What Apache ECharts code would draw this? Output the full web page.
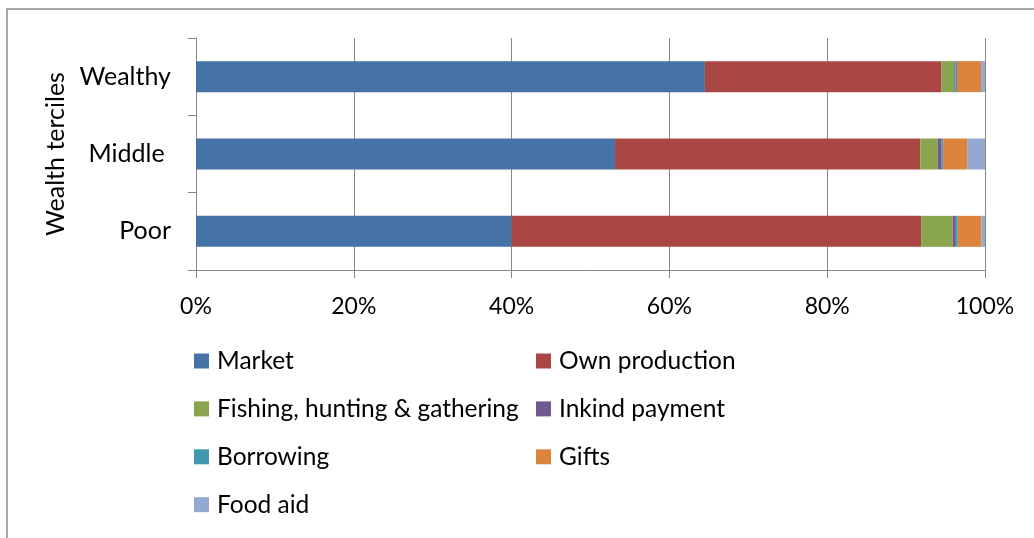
<!DOCTYPE html>
<html>
<head>
<meta charset="utf-8">
<style>
  html, body { margin: 0; padding: 0; background: #fff; }
  #chart { width: 1034px; height: 538px; }
</style>
<script src="https://cdn.jsdelivr.net/npm/echarts@6/dist/echarts.min.js"></script>
</head>
<body>
<div id="chart"></div>
<script>
// Wealth terciles, bottom to top on the category axis
const categories = ['Poor', 'Middle ', 'Wealthy'];

// Share of food by source (%), per tercile in the order above
const market         = [40.0, 53.1, 64.5];
const ownProduction  = [51.9, 38.7, 30.0];
const fishing        = [4.0, 2.2, 1.6];
const inkindPayment  = [0.4, 0.5, 0.15];
const borrowing      = [0.25, 0.2, 0.2];
const gifts          = [3.0, 3.1, 3.05];
const foodAid        = [0.45, 2.2, 0.5];

const xTicks = [0, 20, 40, 60, 80, 100];

const seriesDefs = [
  { name: 'Market', data: market, color: '#4572A7' },
  { name: 'Own production', data: ownProduction, color: '#AA4643' },
  { name: 'Fishing, hunting & gathering', data: fishing, color: '#89A54E' },
  { name: 'Inkind payment', data: inkindPayment, color: '#71588F' },
  { name: 'Borrowing', data: borrowing, color: '#4198AF' },
  { name: 'Gifts', data: gifts, color: '#DB843D' },
  { name: 'Food aid', data: foodAid, color: '#93A9CF' }
];

const FONT = 'Lato';
const TXT = '#000';
const GRID_GRAY = '#888888';

const legendBase = {
  orient: 'vertical',
  padding: 0,
  icon: 'rect',
  itemWidth: 15,
  itemHeight: 15,
  itemGap: 22.9,
  selectedMode: false,
  textStyle: { fontFamily: FONT, fontSize: 24.5, color: TXT, lineHeight: 25, padding: [0, 0, 0, 3] }
};

const chart = echarts.init(document.getElementById('chart'), null, { renderer: 'canvas' });

chart.setOption({
  animation: false,
  backgroundColor: '#ffffff',
  graphic: [{
    type: 'rect',
    shape: { x: 7, y: 9, width: 1100, height: 600 },
    style: { fill: 'none', stroke: '#8c8c8c', lineWidth: 1.5 },
    silent: true
  }],
  grid: { left: 196, right: 49, top: 38, bottom: 268, containLabel: false },
  legend: [
    Object.assign({}, legendBase, {
      left: 194, top: 348.5,
      data: ['Market', 'Fishing, hunting & gathering', 'Borrowing', 'Food aid']
    }),
    Object.assign({}, legendBase, {
      left: 536, top: 348.5,
      data: ['Own production', 'Inkind payment', 'Gifts']
    })
  ],
  xAxis: {
    type: 'value',
    min: xTicks[0],
    max: xTicks[xTicks.length - 1],
    interval: xTicks[1] - xTicks[0],
    axisLine: { show: true, lineStyle: { color: GRID_GRAY, width: 1 } },
    axisTick: { show: true, length: 8, lineStyle: { color: GRID_GRAY } },
    splitLine: { show: true, lineStyle: { color: GRID_GRAY, width: 1 } },
    axisLabel: {
      formatter: '{value}%',
      fontFamily: FONT, fontSize: 23, color: TXT, margin: 25
    }
  },
  yAxis: {
    type: 'category',
    data: categories,
    name: 'Wealth terciles',
    nameLocation: 'middle',
    nameRotate: 90,
    nameGap: 123,
    nameTextStyle: { fontFamily: FONT, fontSize: 25, color: TXT },
    axisLine: { show: true, lineStyle: { color: GRID_GRAY, width: 1 } },
    axisTick: { show: true, length: 8, lineStyle: { color: GRID_GRAY } },
    axisLabel: { fontFamily: FONT, fontSize: 25, color: TXT, margin: 25 }
  },
  series: seriesDefs.map(s => ({
    name: s.name,
    type: 'bar',
    stack: 'share',
    barWidth: 31,
    data: s.data,
    itemStyle: { color: s.color },
    emphasis: { disabled: true }
  }))
});
</script>
</body>
</html>
